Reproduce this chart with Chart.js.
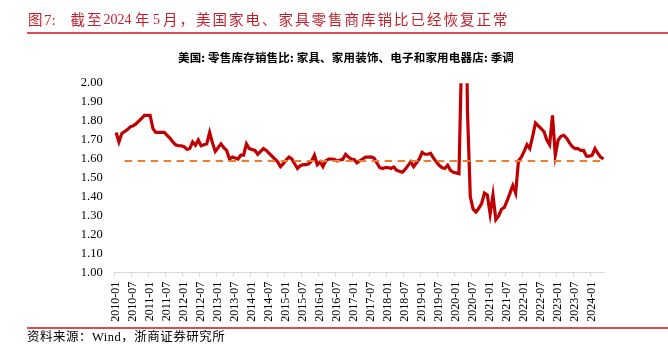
<!DOCTYPE html>
<html>
<head>
<meta charset="utf-8">
<script src="https://cdn.jsdelivr.net/npm/chart.js@4.4.1/dist/chart.umd.min.js"></script>
<style>
  html, body { margin:0; padding:0; background:#fff; }
  #wrap { position:relative; width:668px; height:357px; overflow:hidden; }
  #c { position:absolute; left:0; top:0; }
  .txt { position:absolute; white-space:pre; font-family:"Liberation Serif","Noto Sans CJK SC",serif; line-height:1; }
  .cjk { font-family:"Noto Sans CJK SC","Liberation Serif",sans-serif; }
  .num { font-family:"Liberation Serif",serif; }
  .rule { position:absolute; left:27px; width:641px; height:2px; background:#D65050; }
  #title span { position:absolute; top:0; white-space:pre; line-height:1; }
</style>
</head>
<body>
<div id="wrap">
  <canvas id="c" width="668" height="357"></canvas>
  <div id="title" style="position:absolute; left:0; top:12px; width:668px; height:20px; color:#C21F2A;">
    <span class="cjk" style="left:28px; font-size:14.5px;">图</span>
    <span class="num" style="left:44px; top:1px; font-size:15px;">7:</span>
    <span class="cjk" style="left:70.5px; font-size:14.5px; letter-spacing:2px;">截至</span>
    <span class="num" style="left:103.5px; top:1px; font-size:14px;">2024</span>
    <span class="cjk" style="left:135px; font-size:14.5px;">年</span>
    <span class="num" style="left:153px; top:1px; font-size:14px;">5</span>
    <span class="cjk" style="left:163px; font-size:14.5px; letter-spacing:2px;">月，美国家电、家具零售商库销比已经恢复正常</span>
  </div>
  <div class="rule" style="top:32px;"></div>
  <div class="txt cjk" id="ct" style="left:346px; top:52px; font-size:11.5px; letter-spacing:0.2px; font-weight:bold; color:#000; transform:translateX(-50%);">美国: 零售库存销售比: 家具、家用装饰、电子和家用电器店: 季调</div>
  <div class="rule" style="top:327px;"></div>
  <div class="txt" style="left:27px; top:331px; font-size:12.5px; letter-spacing:0.5px; color:#000;">资料来源：Wind，浙商证券研究所</div>
</div>
<script>
// ---- data ----
const startYear = 2010, startMonth = 1, monthCount = 173; // 2010-01 .. 2024-05
const ratio = [
  1.74,1.69,1.735,1.745,1.755,1.77,1.775,1.785,1.80,1.815,1.83,1.83,
  1.83,1.76,1.74,1.74,1.74,1.74,1.725,1.71,1.69,1.675,1.67,1.67,
  1.665,1.65,1.655,1.69,1.673,1.70,1.67,1.675,1.68,1.74,1.685,1.64,
  1.66,1.68,1.66,1.645,1.60,1.61,1.605,1.60,1.62,1.62,1.68,1.655,
  1.65,1.645,1.625,1.64,1.655,1.645,1.63,1.615,1.60,1.585,1.56,1.575,
  1.595,1.61,1.60,1.575,1.55,1.565,1.57,1.57,1.575,1.59,1.62,1.57,
  1.585,1.56,1.59,1.60,1.60,1.598,1.59,1.595,1.598,1.625,1.61,1.60,
  1.598,1.58,1.59,1.60,1.61,1.61,1.611,1.605,1.58,1.555,1.55,1.555,
  1.555,1.55,1.558,1.54,1.535,1.53,1.545,1.565,1.585,1.56,1.58,1.60,
  1.635,1.625,1.625,1.63,1.605,1.585,1.567,1.555,1.55,1.567,1.54,1.53,
  1.527,1.523,2.2,3.1,1.85,1.40,1.335,1.32,1.34,1.365,1.42,1.41,
  1.31,1.41,1.28,1.30,1.335,1.345,1.38,1.42,1.46,1.42,1.59,1.61,
  1.64,1.675,1.655,1.72,1.79,1.775,1.76,1.745,1.70,1.675,1.83,1.62,
  1.70,1.72,1.725,1.71,1.685,1.665,1.655,1.655,1.645,1.645,1.615,1.615,
  1.62,1.655,1.63,1.61,1.60
];
const avgValue = 1.59;
const avgStartIndex = 3;
const yTicks = [1.00,1.10,1.20,1.30,1.40,1.50,1.60,1.70,1.80,1.90,2.00];

const months = [];
for (let k = 0; k < monthCount; k++) {
  const y = startYear + Math.floor((startMonth - 1 + k) / 12);
  const m = (startMonth - 1 + k) % 12 + 1;
  months.push(y + '-' + (m < 10 ? '0' + m : m));
}
const avgLine = months.map((_, k) => k >= avgStartIndex ? avgValue : null);

const serif = '"Liberation Serif", "Times New Roman", serif';

new Chart(document.getElementById('c'), {
  type: 'line',
  data: {
    labels: months,
    datasets: [
      {
        data: ratio,
        borderColor: '#C00000',
        borderWidth: 3.2,
        pointRadius: 0,
        tension: 0,
        clip: {left: 5, right: 5, top: 0, bottom: 5},
        order: 2
      },
      {
        data: avgLine,
        borderColor: '#ED7D31',
        borderWidth: 2,
        borderDash: [7.5, 5.5],
        pointRadius: 0,
        tension: 0,
        order: 1
      }
    ]
  },
  options: {
    responsive: false,
    animation: false,
    devicePixelRatio: 1,
    layout: { padding: { left: 0, right: 63.1, top: 83.2, bottom: 34.3 } },
    plugins: { legend: { display: false }, tooltip: { enabled: false }, title: { display: false } },
    scales: {
      x: {
        type: 'category',
        offset: true,
        afterFit: s => { s.height = 50; },
        border: { display: true, color: '#D9D9D9', width: 1 },
        grid: {
          display: true,
          offset: true,
          drawOnChartArea: false,
          drawTicks: true,
          tickLength: 4,
          color: ctx => (ctx.index % 6 === 0 ? '#D9D9D9' : 'rgba(0,0,0,0)')
        },
        ticks: {
          autoSkip: false,
          minRotation: 90,
          maxRotation: 90,
          padding: 5,
          color: '#000',
          font: { family: serif, size: 12 },
          callback: function (val, idx) { return idx % 6 === 0 ? this.getLabelForValue(val) : ''; }
        }
      },
      y: {
        min: yTicks[0],
        max: yTicks[yTicks.length - 1],
        afterFit: s => { s.width = 114.7; },
        afterBuildTicks: s => { s.ticks = yTicks.map(v => ({ value: v })); },
        border: { display: false },
        grid: { display: false, drawTicks: false },
        ticks: {
          padding: 12,
          color: '#000',
          font: { family: serif, size: 12.5 },
          callback: v => Number(v).toFixed(2)
        }
      }
    }
  }
});
</script>
</body>
</html>
